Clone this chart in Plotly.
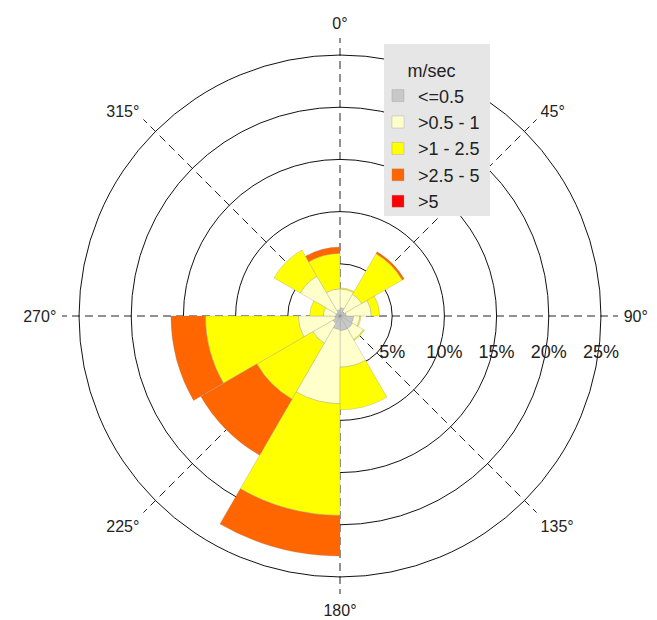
import plotly.graph_objects as go

# Direction bins (centres, degrees clockwise from north), 30° wide
directions = [15, 45, 75, 105, 135, 165, 195, 225, 255, 285, 315, 345]
sector_width = 30

# Frequency (%) per speed class in each direction bin
speed_labels = ["<=0.5", ">0.5 - 1", ">1 - 2.5", ">2.5 - 5", ">5"]
freq_le_0_5 = [0.8, 0.5, 0.6, 1.3, 1.4, 1.4, 1.3, 0.8, 0.5, 0.4, 0.4, 0.6]
freq_0_5_1 = [1.8, 1.9, 2.4, 0.6, 1.2, 3.5, 7.1, 2.2, 3.5, 1.2, 4.0, 2.0]
freq_1_2_5 = [0.1, 4.5, 0.8, 0.1, 0.1, 4.1, 10.7, 6.2, 8.9, 1.3, 2.9, 3.4]
freq_2_5_5 = [0.0, 0.2, 0.0, 0.0, 0.0, 0.0, 3.9, 6.2, 3.3, 0.0, 0.0, 0.6]
freq_gt_5 = [0.0] * 12
series = [freq_le_0_5, freq_0_5_1, freq_1_2_5, freq_2_5_5, freq_gt_5]
colors = ["#c8c8c8", "#ffffcc", "#ffff00", "#ff6600", "#ff0000"]

# Axis ticks
radial_ticks = [5, 10, 15, 20, 25]
radial_ticktext = ["5%", "10%", "15%", "20%", "25%"]
angle_ticks = [0, 45, 90, 135, 180, 225, 270, 315]
angle_ticktext = ["0°", "45°", "90°", "135°", "180°", "225°", "270°", "315°"]

FONT = "Liberation Sans, Arial, sans-serif"

# The page body has an 8px margin; positions below are in figure pixels
W, H = 649, 612

fig = go.Figure()
for name, vals, col in zip(speed_labels, series, colors):
    fig.add_trace(go.Barpolar(
        r=vals, theta=directions, width=sector_width, name=name,
        legendgroup=name,
        marker=dict(color=col, line=dict(color="rgba(140,140,140,0.6)", width=0.5)),
    ))

fig.update_layout(
    width=W, height=H,
    margin=dict(l=0, r=0, t=0, b=0),
    paper_bgcolor="white",
    font=dict(family=FONT, size=18, color="#222"),
    polar=dict(
        domain=dict(x=[54 / W, 610 / W], y=[1 - 586 / H, 1 - 30 / H]),
        bgcolor="white",
        barmode="stack",
        radialaxis=dict(
            range=[0, 26.63], tickvals=radial_ticks, ticktext=radial_ticktext,
            angle=0, side="clockwise", showline=False,
            showgrid=True, gridcolor="#111", gridwidth=1,
            ticks="outside", ticklen=20, tickcolor="rgba(0,0,0,0)",
            tickfont=dict(size=18, color="#222"),
        ),
        angularaxis=dict(
            rotation=90, direction="clockwise",
            tickvals=angle_ticks, ticktext=angle_ticktext,
            showline=False, showgrid=True, gridcolor="#222", gridwidth=1,
            griddash="8px,5px", ticks="outside", ticklen=2,
            tickcolor="rgba(0,0,0,0)",
            tickfont=dict(size=16, color="#222"),
        ),
    ),
    legend=dict(
        x=370 / W, y=1 - 46 / H, xanchor="left", yanchor="top",
        bgcolor="rgba(0,0,0,0)", borderwidth=0,
        font=dict(size=18, family=FONT, color="#222"),
        title=dict(text="m/sec", side="top center", font=dict(size=18)),
        traceorder="normal",
    ),
    shapes=[dict(
        type="rect", xref="paper", yref="paper", layer="above",
        x0=376 / W, x1=482 / W, y0=1 - 208 / H, y1=1 - 36 / H,
        fillcolor="#e6e6e6", line=dict(width=0),
    )],
)

fig.write_html("out.html")
